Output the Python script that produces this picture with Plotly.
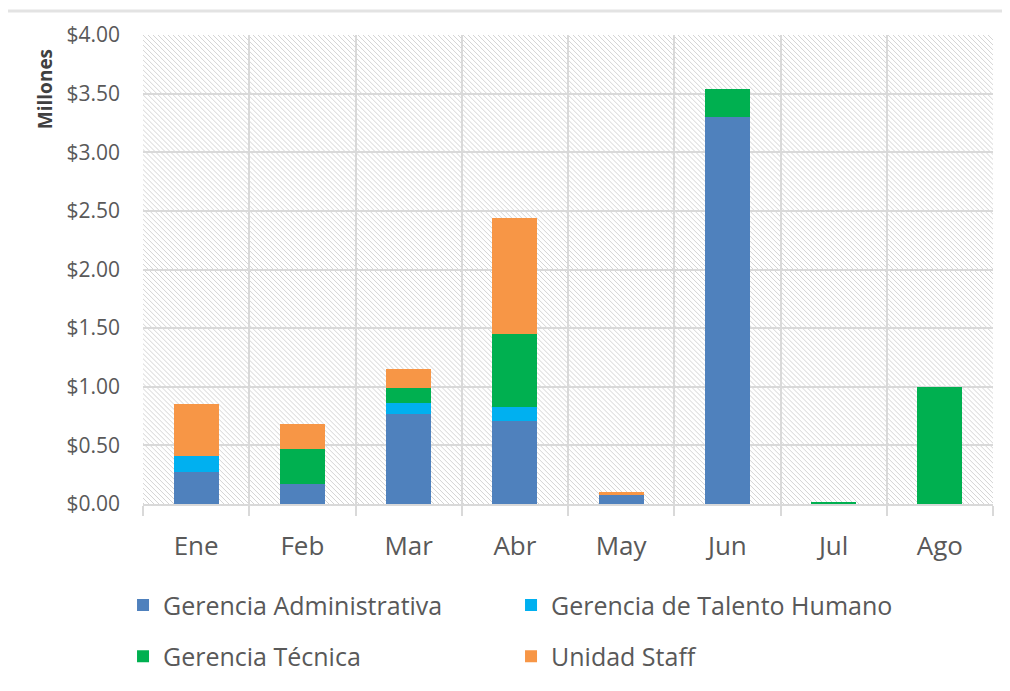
import base64
import plotly.graph_objects as go

meses = ["Ene", "Feb", "Mar", "Abr", "May", "Jun", "Jul", "Ago"]
gerencia_administrativa = [0.27, 0.17, 0.77, 0.71, 0.085, 3.30, 0.0, 0.0]
gerencia_talento_humano = [0.14, 0.0, 0.09, 0.12, 0.0, 0.0, 0.0, 0.0]
gerencia_tecnica = [0.0, 0.30, 0.13, 0.62, 0.0, 0.24, 0.02, 1.00]
unidad_staff = [0.44, 0.21, 0.16, 0.99, 0.015, 0.0, 0.0, 0.0]

y_ticks = [0, 0.5, 1.0, 1.5, 2.0, 2.5, 3.0, 3.5, 4.0]
y_labels = ["$%.2f" % v for v in y_ticks]

W, H = 1002, 683
L, R, T, B = 135, 17, 25, 187
PW, PH = W - L - R, H - T - B

svg = f'''<svg xmlns="http://www.w3.org/2000/svg" width="{PW}" height="{PH}" viewBox="0 0 {PW} {PH}">
<defs><pattern id="h" patternUnits="userSpaceOnUse" width="5" height="5">
<path d="M-1,-1 L6,6 M-1,4 L1,6 M4,-1 L6,1" stroke="#d4d4d4" stroke-width="1"/>
</pattern></defs>
<rect width="{PW}" height="{PH}" fill="#ffffff"/>
<rect width="{PW}" height="{PH}" fill="url(#h)"/>
</svg>'''
src = "data:image/svg+xml;base64," + base64.b64encode(svg.encode()).decode()

font = "Open Sans"
txt = "#595959"

fig = go.Figure()
series = [
    ("Gerencia Administrativa", gerencia_administrativa, "#4F81BD", "legend"),
    ("Gerencia de Talento Humano", gerencia_talento_humano, "#00B0F0", "legend"),
    ("Gerencia Técnica", gerencia_tecnica, "#00B050", "legend2"),
    ("Unidad Staff", unidad_staff, "#F79646", "legend2"),
]
for name, vals, col, lg in series:
    fig.add_trace(go.Bar(x=meses, y=vals, name=name, marker_color=col,
                         marker_line_width=0, legend=lg))

leg_common = dict(orientation="h", xanchor="left", yanchor="middle",
                  traceorder="normal",
                  font=dict(family=font, size=25, color=txt),
                  entrywidth=343, entrywidthmode="pixels",
                  bgcolor="rgba(0,0,0,0)", itemwidth=30)

fig.update_layout(
    width=W, height=H,
    margin=dict(l=L, r=R, t=T, b=B, pad=0),
    barmode="stack", bargap=0.575,
    paper_bgcolor="white", plot_bgcolor="rgba(0,0,0,0)",
    font=dict(family=font, color=txt),
    showlegend=True,
    legend=dict(x=-0.0235, y=-0.216, **leg_common),
    legend2=dict(x=-0.0235, y=-0.325, **leg_common),
    xaxis=dict(type="category", tickson="boundaries", showgrid=True,
               gridcolor="#d9d9d9", gridwidth=2, ticks="outside", ticklen=10,
               tickcolor="#d9d9d9", tickwidth=2,
               showline=True, linecolor="#d9d9d9", linewidth=2,
               tickfont=dict(family=font, size=26, color=txt),
               ticklabelstandoff=18, mirror=False),
    yaxis=dict(range=[0, 4.0], tickvals=y_ticks, ticktext=y_labels,
               showgrid=True, gridcolor="#d9d9d9", gridwidth=2,
               zeroline=False, showline=False, ticks="",
               tickfont=dict(family=font, size=21, color=txt),
               ticklabelstandoff=22),
    images=[dict(source=src, xref="paper", yref="paper", x=0, y=1,
                 sizex=1, sizey=1, sizing="stretch", layer="below",
                 xanchor="left", yanchor="top")],
    annotations=[dict(text="<b>Millones</b>", textangle=-90, xref="paper",
                      yref="paper", x=-0.115, y=0.885, xanchor="center",
                      yanchor="middle", showarrow=False,
                      font=dict(family=font, size=19, color="#404040"))],
    shapes=[dict(type="line", xref="paper", yref="paper", x0=-0.2, x1=1.1,
                 y0=1.051, y1=1.051, line=dict(color="#e3e3e3", width=3))],
)

fig.write_html("out.html")
